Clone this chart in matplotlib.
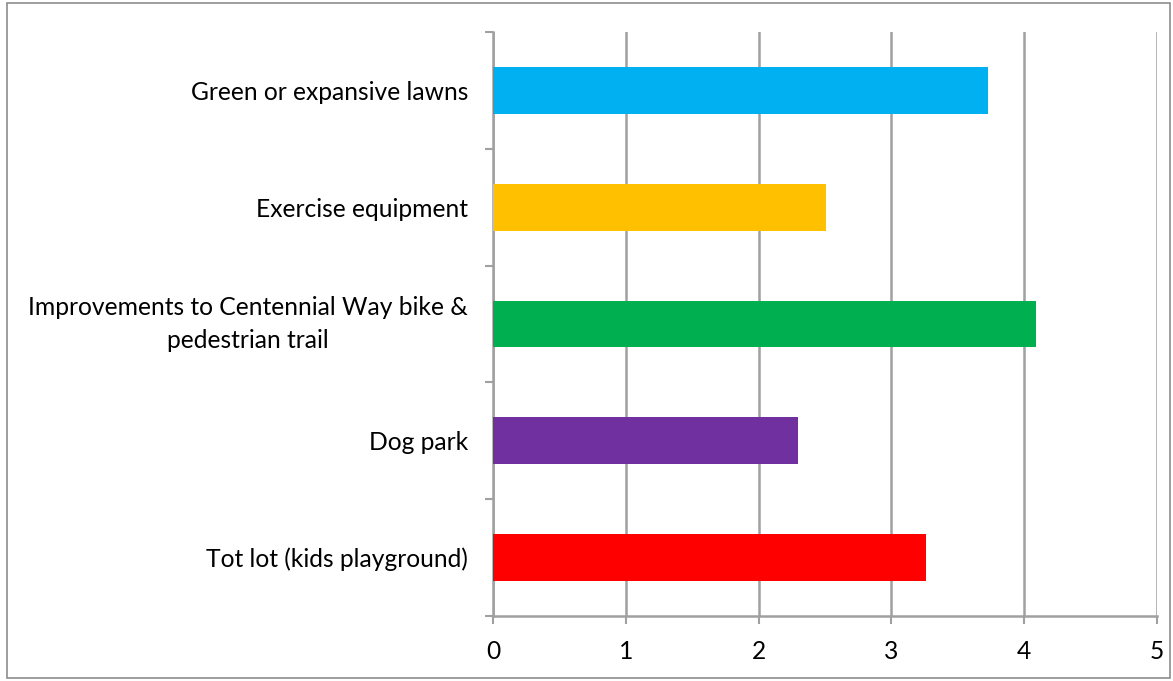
import matplotlib.pyplot as plt
import numpy as np
from matplotlib.patches import Rectangle

# categories listed from top to bottom as they appear in the chart
categories = ["Green or expansive lawns",
              "Exercise equipment",
              "Improvements to Centennial Way bike &\npedestrian trail",
              "Dog park",
              "Tot lot (kids playground)"]
values = [3.73, 2.51, 4.09, 2.30, 3.26]
colors = ["#00B0F0", "#FFC000", "#00B050", "#7030A0", "#FF0000"]
x_ticks = [0, 1, 2, 3, 4, 5]

grid_col = "#a0a0a0"
plt.rcParams['font.family'] = ['Lato', 'DejaVu Sans']

fig = plt.figure(figsize=(11.73, 6.81), dpi=100)
ax = fig.add_axes([493 / 1173, 1 - 616 / 681, (1157 - 493) / 1173, (616 - 32) / 681])

y = np.arange(len(categories))
ax.barh(y, values, height=0.4, color=colors, zorder=3)

ax.set_xlim(0, 5)
ax.set_ylim(len(categories) - 0.5, -0.5)
ax.set_xticks(x_ticks)
ax.set_yticks(y)
ax.set_yticklabels(categories, fontsize=17.7)
for lbl in ax.get_yticklabels():
    lbl.set_multialignment("center")
    lbl.set_linespacing(1.55)
    if "\n" in lbl.get_text():
        lbl.set_verticalalignment("center")
ax.set_yticks(np.arange(-0.5, len(categories)), minor=True)

ax.grid(axis="x", color=grid_col, linewidth=1.8, zorder=0)
ax.tick_params(axis="y", which="major", length=0, pad=18)
ax.tick_params(axis="y", which="minor", length=6, width=1.5, color=grid_col, direction="out")
ax.tick_params(axis="x", length=6, width=1.5, color=grid_col, labelsize=17.7, pad=11)

for s in ["top", "right"]:
    ax.spines[s].set_visible(False)
for s in ["left", "bottom"]:
    ax.spines[s].set_color(grid_col)
    ax.spines[s].set_linewidth(1.8)

# outer chart border
fig.patches.append(Rectangle((7 / 1173, 1 - 678 / 681), (1170 - 7) / 1173, (678 - 3) / 681,
                             transform=fig.transFigure, fill=False,
                             edgecolor="#8c8c8c", linewidth=1.2))

fig.savefig("out.png", dpi=100)
